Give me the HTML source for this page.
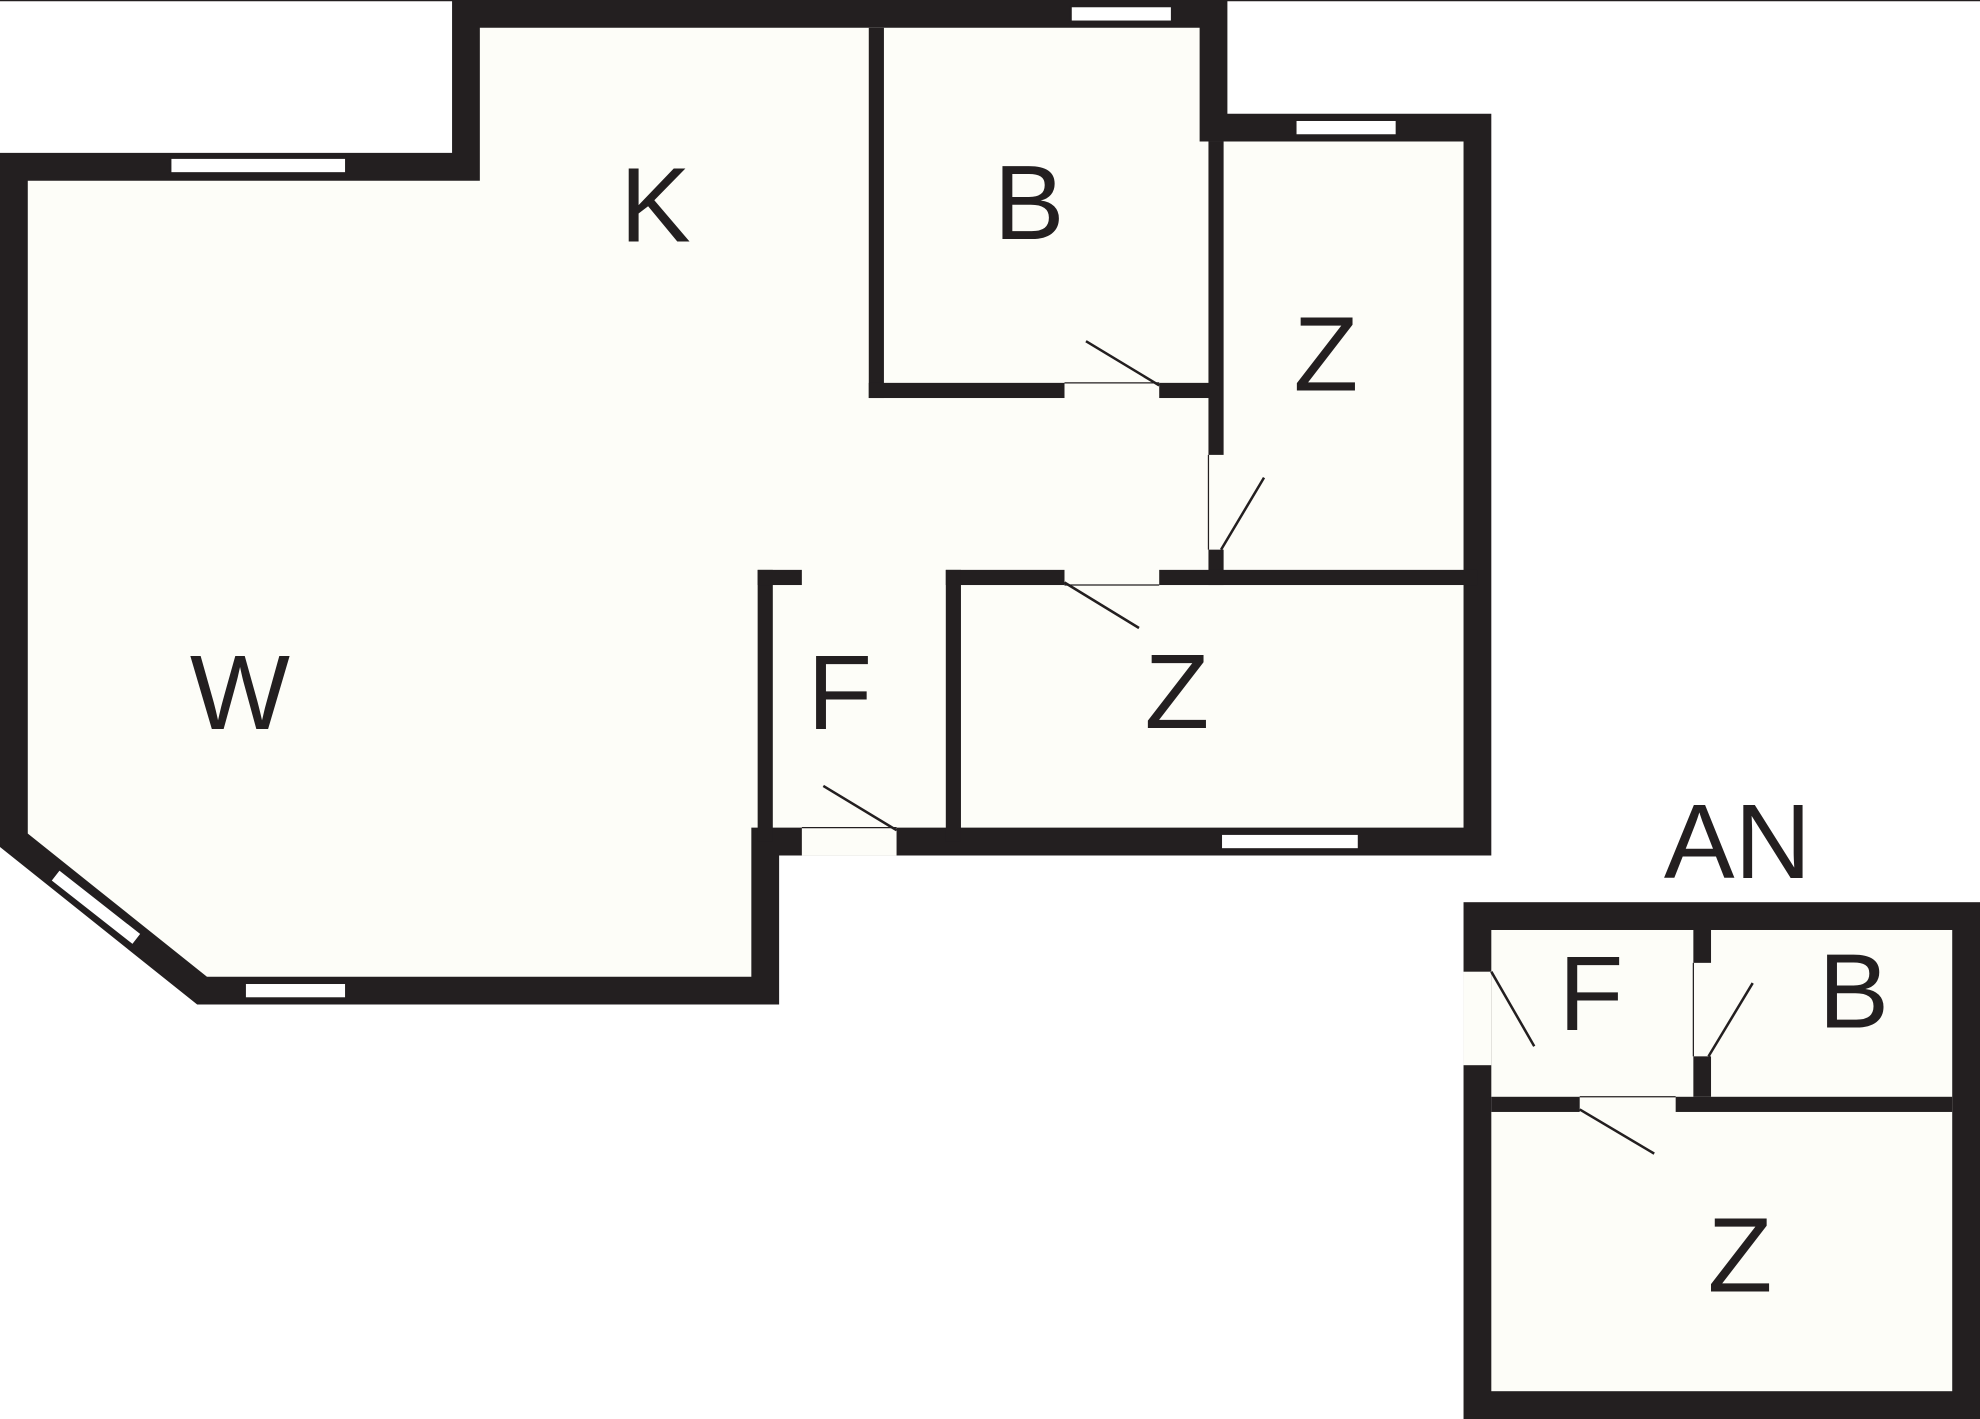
<!DOCTYPE html>
<html><head><meta charset="utf-8"><style>
html,body{margin:0;padding:0;background:#fff;}
svg{display:block;}
text{font-family:"Liberation Sans",sans-serif;font-size:84px;fill:#231f20;text-anchor:middle;}
</style></head><body>
<svg width="1980" height="1419" viewBox="0 0 1568 1123" preserveAspectRatio="none" xmlns="http://www.w3.org/2000/svg">
<rect width="1568" height="1123" fill="#fff"/>
<line x1="0" y1="0.5" x2="1568" y2="0.5" stroke="#231f20" stroke-width="1"/>
<path d="M11,132 L369,132 L369,11 L961,11 L961,101 L1170,101 L1170,666 L606,666 L606,784 L160,784 L11,665 Z" fill="#fdfdf8" stroke="#231f20" stroke-width="22" stroke-linejoin="miter"/>
<rect x="635" y="655" width="75" height="22" fill="#fdfdf8"/>
<line x1="635" y1="655" x2="710" y2="655" stroke="#231f20" stroke-width="1"/>
<g fill="#231f20">
<rect x="688" y="22" width="12" height="293"/>
<rect x="688" y="303" width="155" height="12"/>
<rect x="918" y="303" width="45" height="12"/>
<rect x="957" y="112" width="12" height="248"/>
<rect x="957" y="435" width="12" height="28"/>
<rect x="749" y="451" width="94" height="12"/>
<rect x="918" y="451" width="252" height="12"/>
<rect x="600" y="451" width="12" height="215"/>
<rect x="600" y="451" width="35" height="12"/>
<rect x="749" y="451" width="12" height="215"/>
</g>
<g stroke="#231f20" stroke-width="2">
<line x1="918" y1="305" x2="860" y2="270"/>
<line x1="967" y1="435" x2="1001" y2="378"/>
<line x1="843" y1="461" x2="902" y2="497"/>
<line x1="710" y1="657" x2="652" y2="622"/>
<line x1="843" y1="303" x2="918" y2="303" stroke-width="1"/>
<line x1="843" y1="463" x2="918" y2="463" stroke-width="1"/>
<line x1="957" y1="360" x2="957" y2="435" stroke-width="1"/>
</g>
<g fill="#fff" stroke="#231f20" stroke-width="1.5">
<rect x="848" y="5" width="80" height="12"/>
<rect x="135" y="125" width="139" height="12"/>
<rect x="1026" y="95" width="80" height="12"/>
<rect x="967" y="660" width="109" height="12"/>
<rect x="194" y="778" width="80" height="12"/>
<polygon points="47,688 112,739 105,748 40,697"/>
</g>
<rect x="1170" y="725" width="387" height="387" fill="#fdfdf8" stroke="#231f20" stroke-width="22"/>
<rect x="1159" y="769" width="22" height="74" fill="#fdfdf8"/>
<g fill="#231f20">
<rect x="1341" y="736" width="14" height="26"/>
<rect x="1341" y="836" width="14" height="32"/>
<rect x="1181" y="868" width="70" height="12"/>
<rect x="1327" y="868" width="219" height="12"/>
</g>
<g stroke="#231f20" stroke-width="2">
<line x1="1181" y1="769" x2="1215" y2="828"/>
<line x1="1353" y1="836" x2="1388" y2="778"/>
<line x1="1251" y1="878" x2="1310" y2="913"/>
<line x1="1341" y1="762" x2="1341" y2="836" stroke-width="1"/>
<line x1="1251" y1="868" x2="1327" y2="868" stroke-width="1"/>
</g>
<text x="519" y="191">K</text>
<text x="815" y="189">B</text>
<text x="1050" y="309">Z</text>
<text x="190" y="577">W</text>
<text x="665" y="577">F</text>
<text x="932" y="576">Z</text>
<text x="1376" y="695">AN</text>
<text x="1260" y="815">F</text>
<text x="1468" y="813">B</text>
<text x="1378" y="1022">Z</text>
</svg>
</body></html>
